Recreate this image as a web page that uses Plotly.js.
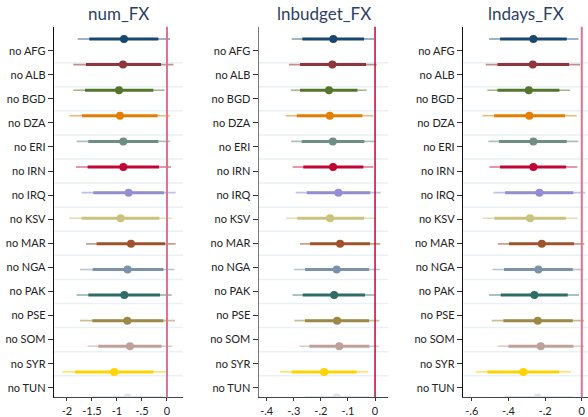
<!DOCTYPE html>
<html><head><meta charset="utf-8">
<script src="https://cdn.plot.ly/plotly-3.0.1.min.js"></script>
<style>html,body{margin:0;padding:0;background:#fff}</style>
</head><body>
<div id="chart" style="width:588px;height:417px"></div>
<script>
const rows = ['no AFG','no ALB','no BGD','no DZA','no ERI','no IRN','no IRQ','no KSV','no MAR','no NGA','no PAK','no PSE','no SOM','no SYR','no TUN'];
const colors = ['#1a476f','#90353b','#55752f','#e37e00','#6e8e84','#c10534','#938dd2','#cac27e','#a0522d','#7b92a8','#2d6d66','#9c8847','#bfa19c','#ffd200','#d9e6eb'];

// num_FX
const numPt    = [-0.86,-0.88,-0.96,-0.94,-0.873,-0.873,-0.767,-0.927,-0.72,-0.787,-0.853,-0.793,-0.74,-1.053,-0.787];
const numInLo  = [-1.553,-1.62,-1.64,-1.70,-1.573,-1.587,-1.473,-1.707,-1.407,-1.487,-1.573,-1.493,-1.373,-1.84,-1.49];
const numInHi  = [-0.173,-0.12,-0.273,-0.187,-0.173,-0.16,-0.06,-0.153,-0.04,-0.073,-0.14,-0.073,-0.107,-0.273,-0.073];
const numOutLo = [-1.786,-1.873,-1.873,-1.953,-1.807,-1.82,-1.707,-1.96,-1.62,-1.74,-1.807,-1.74,-1.587,-2.093,-1.74];
const numOutHi = [0.06,0.127,-0.047,0.06,0.06,0.08,0.173,0.093,0.173,0.147,0.093,0.16,0.107,-0.02,0.16];

// lnbudget_FX
const budPt    = [-0.154,-0.1575,-0.17,-0.167,-0.156,-0.155,-0.1354,-0.166,-0.129,-0.1415,-0.151,-0.14,-0.132,-0.188,-0.1415];
const budInLo  = [-0.2684,-0.277,-0.277,-0.289,-0.2708,-0.265,-0.252,-0.287,-0.24,-0.2585,-0.267,-0.2585,-0.2425,-0.3077,-0.2585];
const budInHi  = [-0.0406,-0.033,-0.065,-0.047,-0.0394,-0.043,-0.018,-0.0406,-0.0185,-0.022,-0.037,-0.022,-0.021,-0.0677,-0.022];
const budOutLo = [-0.3077,-0.3176,-0.311,-0.33,-0.31,-0.304,-0.293,-0.3286,-0.277,-0.299,-0.305,-0.298,-0.2795,-0.351,-0.299];
const budOutHi = [-0.0037,0.006,-0.031,-0.006,0.0,-0.006,0.021,-0.0025,0.0185,0.0185,0.0,0.016,0.016,-0.0246,0.0185];

// lndays_FX
const dayPt    = [-0.264,-0.267,-0.289,-0.286,-0.264,-0.264,-0.231,-0.282,-0.218,-0.2367,-0.2586,-0.24,-0.2237,-0.3186,-0.24];
const dayInLo  = [-0.4457,-0.46,-0.46,-0.478,-0.451,-0.446,-0.418,-0.477,-0.397,-0.424,-0.442,-0.4277,-0.40,-0.515,-0.426];
const dayInHi  = [-0.0818,-0.069,-0.122,-0.091,-0.082,-0.0855,-0.046,-0.087,-0.042,-0.049,-0.0764,-0.049,-0.046,-0.124,-0.049];
const dayOutLo = [-0.5057,-0.5237,-0.515,-0.542,-0.5095,-0.504,-0.482,-0.54,-0.458,-0.4877,-0.5057,-0.491,-0.458,-0.578,-0.50];
const dayOutHi = [-0.0185,-0.009,-0.064,-0.027,-0.0185,-0.024,0.018,-0.022,0.014,0.0087,-0.0147,0.0125,0.0125,-0.058,0.009];

const titles = ['num_FX','lnbudget_FX','lndays_FX'];
const xTickVals = [[-2,-1.5,-1,-0.5,0],[-0.4,-0.3,-0.2,-0.1,0],[-0.6,-0.4,-0.2,0]];
const xTickText = [['-2','-1.5','-1','-.5','0'],['-.4','-.3','-.2','-.1','0'],['-.6','-.4','-.2','0']];

const panels = [
  {pt:numPt,inLo:numInLo,inHi:numInHi,outLo:numOutLo,outHi:numOutHi},
  {pt:budPt,inLo:budInLo,inHi:budInHi,outLo:budOutLo,outHi:budOutHi},
  {pt:dayPt,inLo:dayInLo,inHi:dayInHi,outLo:dayOutLo,outHi:dayOutHi}
];

function rgba(hex,a){const n=parseInt(hex.slice(1),16);return `rgba(${n>>16},${(n>>8)&255},${n&255},${a})`;}

// layout geometry
const xDomains = [[0.0923,0.3112],[0.4405,0.6604],[0.788,1.0]];
const xRanges = [[-2.254,0.32],[-0.4284,0.049],[-0.646,0.034]];
const yDomain = [0.0468,0.936];
const yRange = [14.0,-0.48];
const labelStart = 0.457, labelStep = 0.9402;
const zeroColors = ['#e07090','#c10534','#e07090'];
const zeroWidths = [2,1.5,2];
const yLineColors = ['#111','#777','#111'];
const FONT = 'Lato, "Open Sans", sans-serif';

const data = [];
const layout = {
  width:588,height:417,
  margin:{l:0,r:0,t:0,b:0},
  paper_bgcolor:'#fff',plot_bgcolor:'#fff',
  showlegend:false,
  font:{family:FONT,size:11,color:'#222'},
  shapes:[],annotations:[]
};

const rowIdx = rows.map((_,i)=>i);
const labelPos = rows.map((_,i)=>labelStart+labelStep*i);

panels.forEach((p,pi)=>{
  const xa = pi===0?'x':'x'+(pi+1), ya = pi===0?'y':'y'+(pi+1);
  const xk = pi===0?'xaxis':'xaxis'+(pi+1), yk = pi===0?'yaxis':'yaxis'+(pi+1);
  rows.forEach((r,i)=>{
    data.push({type:'scatter',mode:'lines',x:[p.outLo[i],p.outHi[i]],y:[rowIdx[i],rowIdx[i]],
      xaxis:xa,yaxis:ya,line:{color:rgba(colors[i],0.55),width:1.6},hoverinfo:'skip'});
    data.push({type:'scatter',mode:'lines',x:[p.inLo[i],p.inHi[i]],y:[rowIdx[i],rowIdx[i]],
      xaxis:xa,yaxis:ya,line:{color:colors[i],width:3},hoverinfo:'skip'});
    data.push({type:'scatter',mode:'markers',x:[p.pt[i]],y:[rowIdx[i]],
      xaxis:xa,yaxis:ya,marker:{color:colors[i],size:8},name:r});
  });
  layout[xk] = {domain:xDomains[pi],range:xRanges[pi],anchor:ya,
    tickmode:'array',tickvals:xTickVals[pi],ticktext:xTickText[pi],
    ticks:'outside',ticklen:3,tickcolor:'#333',showline:true,linecolor:'#444',linewidth:1,
    showgrid:false,zeroline:false,tickfont:{size:11,color:'#222',family:FONT}};
  layout[yk] = {domain:yDomain,range:yRange,anchor:xa,
    tickmode:'array',tickvals:labelPos,ticktext:rows,
    ticks:'outside',ticklen:5,tickcolor:'#333',showline:true,linecolor:yLineColors[pi],linewidth:1.5,
    showgrid:false,zeroline:false,tickfont:{size:11,color:'#222',family:FONT}};
  for(let k=0;k<rows.length-1;k++){
    const gy = labelStart+labelStep*(k+0.5);
    layout.shapes.push({type:'line',xref:xa+' domain',yref:ya,x0:0,x1:1,y0:gy,y1:gy,
      line:{color:'#eaf1f5',width:1.5},layer:'below'});
  }
  layout.shapes.push({type:'line',xref:xa,yref:ya+' domain',x0:0,x1:0,y0:0,y1:1,
    line:{color:zeroColors[pi],width:zeroWidths[pi]},layer:'above'});
  layout.annotations.push({text:titles[pi],xref:xa+' domain',yref:'paper',x:0.5,y:1,
    xanchor:'center',yanchor:'top',yshift:-1,showarrow:false,
    font:{size:17,color:'#2b3f66',family:FONT}});
});

Plotly.newPlot('chart',data,layout,{displayModeBar:false,staticPlot:true});
</script>
</body></html>
